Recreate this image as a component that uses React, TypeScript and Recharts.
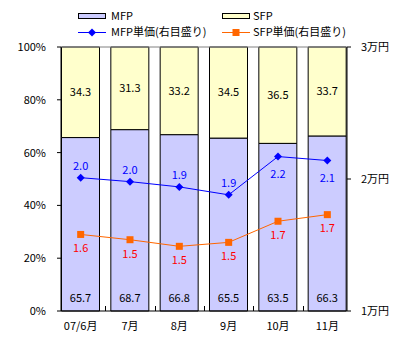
import { ComposedChart, Bar, Line, XAxis, YAxis, LabelList, ReferenceLine } from "recharts";

const months = ["07/6月", "7月", "8月", "9月", "10月", "11月"];
const mfpShare = [65.7, 68.7, 66.8, 65.5, 63.5, 66.3];
const sfpShare = [34.3, 31.3, 33.2, 34.5, 36.5, 33.7];
const mfpPrice = [2.01, 1.98, 1.94, 1.88, 2.17, 2.14];
const sfpPrice = [1.58, 1.54, 1.49, 1.52, 1.68, 1.73];
const leftTicks = [0, 20, 40, 60, 80, 100];
const rightTicks = [1, 2, 3];

const data = months.map((m, i) => ({
  month: m,
  mfp: mfpShare[i],
  sfp: sfpShare[i],
  mfpPrice: mfpPrice[i],
  sfpPrice: sfpPrice[i],
}));

const font = "'Noto Sans CJK JP', sans-serif";
const tickStyle = { fill: "#000", fontSize: 11, fontFamily: font };
const halfBand = 296 / 6 / 2;

const Diamond = (props: any) => {
  const { cx, cy } = props;
  if (cx == null || cy == null) return null;
  return <path d={`M${cx},${cy - 4}L${cx + 4},${cy}L${cx},${cy + 4}L${cx - 4},${cy}Z`} fill="#0000FF" />;
};

const Square = (props: any) => {
  const { cx, cy } = props;
  if (cx == null || cy == null) return null;
  return <rect x={cx - 3.5} y={cy - 3.5} width={7} height={7} fill="#FF6600" />;
};

// month label + small inward tick on the boundary between categories
const MonthTick = (props: any) => {
  const { x, y, payload, index } = props;
  const bx = Math.round(x - halfBand) + 0.5;
  return (
    <g>
      {index > 0 && <line x1={bx} x2={bx} y1={y - 11} y2={y - 16} stroke="#000" />}
      <text x={x} y={y} dy="0.71em" textAnchor="middle" {...tickStyle}>
        {payload.value}
      </text>
    </g>
  );
};

// Excel put the last two MFP labels under the points
const MfpLabel = (props: any) => {
  const { x, y, value, index } = props;
  if (x == null || y == null) return null;
  const below = index >= 4;
  return (
    <text
      x={x}
      y={below ? y + 16 : y - 13}
      textAnchor="middle"
      dominantBaseline="central"
      fill="#0000FF"
      fontSize={11}
      fontFamily={font}
    >
      {Number(value).toFixed(1)}
    </text>
  );
};

function LegendBox() {
  const txt = { fontSize: 11, fontFamily: font };
  return (
    <svg width={400} height={40} style={{ position: "absolute", left: 0, top: 0 }}>
      <rect x={78.5} y={13.5} width={27} height={5} fill="#CCCCFF" stroke="#000" />
      <text x={111} y={20} style={txt}>MFP</text>
      <rect x={222.5} y={13.5} width={27} height={5} fill="#FFFFCC" stroke="#000" />
      <text x={253} y={20} style={txt}>SFP</text>
      <line x1={78} y1={32.5} x2={106} y2={32.5} stroke="#0000FF" />
      <Diamond cx={92} cy={32.5} />
      <text x={111} y={36} style={txt}>MFP単価(右目盛り)</text>
      <line x1={222} y1={32.5} x2={250} y2={32.5} stroke="#FF6600" />
      <Square cx={236} cy={32.5} />
      <text x={253} y={36} style={txt}>SFP単価(右目盛り)</text>
    </svg>
  );
}

export default function App() {
  return (
    <div style={{ position: "absolute", left: 0, top: 0, width: 400, height: 355, background: "#fff" }}>
      <LegendBox />
      <ComposedChart
        width={400}
        height={355}
        data={data}
        margin={{ top: 47, right: 0, left: 0, bottom: 0 }}
        barCategoryGap={5.5}
      >
        <XAxis
          dataKey="month"
          height={44}
          padding={{ left: -5, right: -5 }}
          tickLine={false}
          tickSize={0}
          tickMargin={11}
          axisLine={{ stroke: "#000" }}
          tick={<MonthTick />}
        />
        <YAxis
          yAxisId="left"
          width={61}
          domain={[0, 100]}
          ticks={leftTicks}
          tickFormatter={(v) => `${v}%`}
          tickSize={4}
          tickMargin={11}
          axisLine={{ stroke: "#000" }}
          tickLine={{ stroke: "#000" }}
          tick={tickStyle}
        />
        <YAxis
          yAxisId="right"
          orientation="right"
          width={53}
          domain={[1, 3]}
          ticks={rightTicks}
          tickFormatter={(v) => `${v}万円`}
          tickSize={4}
          tickMargin={10}
          axisLine={{ stroke: "#000" }}
          tickLine={{ stroke: "#000" }}
          tick={{ ...tickStyle, textAnchor: "start" }}
        />
        <ReferenceLine yAxisId="left" y={100} stroke="#808080" />
        <Bar yAxisId="left" dataKey="mfp" stackId="a" fill="#CCCCFF" stroke="#000" isAnimationActive={false}>
          <LabelList dataKey="mfp" position="insideBottom" offset={9} fill="#000" fontSize={11} fontFamily={font} />
        </Bar>
        <Bar yAxisId="left" dataKey="sfp" stackId="a" fill="#FFFFCC" stroke="#000" isAnimationActive={false}>
          <LabelList dataKey="sfp" position="center" fill="#000" fontSize={11} fontFamily={font} />
        </Bar>
        <Line
          yAxisId="right"
          dataKey="mfpPrice"
          stroke="#0000FF"
          strokeWidth={1}
          dot={<Diamond />}
          activeDot={false}
          isAnimationActive={false}
        >
          <LabelList dataKey="mfpPrice" content={<MfpLabel />} />
        </Line>
        <Line
          yAxisId="right"
          dataKey="sfpPrice"
          stroke="#FF6600"
          strokeWidth={1}
          dot={<Square />}
          activeDot={false}
          isAnimationActive={false}
        >
          <LabelList
            dataKey="sfpPrice"
            position="bottom"
            offset={10}
            fill="#FF0000"
            fontSize={11}
            fontFamily={font}
            formatter={(v: any) => Number(v).toFixed(1)}
          />
        </Line>
      </ComposedChart>
    </div>
  );
}
